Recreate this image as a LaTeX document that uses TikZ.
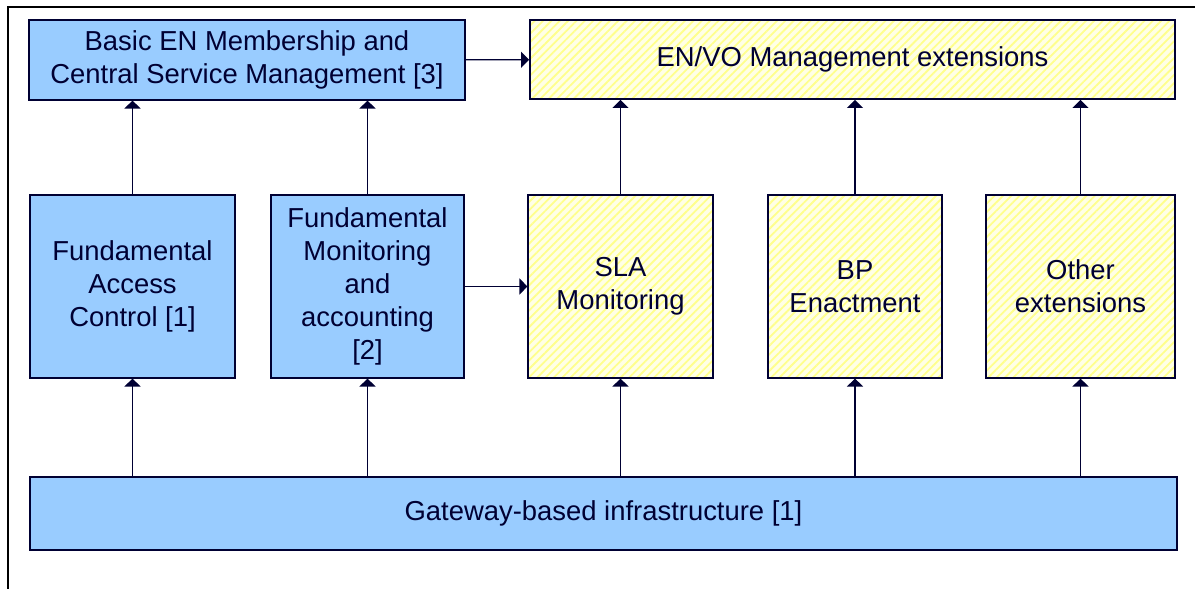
\documentclass[tikz,border=0pt]{standalone}
\usepackage{fontspec}
\setmainfont{Liberation Sans}
\usetikzlibrary{positioning,arrows.meta,patterns.meta}
\definecolor{navy}{RGB}{0,0,51}
\definecolor{boxblue}{RGB}{153,204,255}
\definecolor{paleyellow}{RGB}{255,255,230}
\definecolor{stripeyellow}{RGB}{255,255,140}

\begin{document}
\begin{tikzpicture}[x=0.025cm, y=-0.025cm,
  every node/.style = {font = \fontsize{19.5}{23.4}\selectfont, text = navy, align = center, inner sep = 0pt},
  basebox/.style = {draw = navy, line width = 0.8pt, fill = boxblue, shape = rectangle},
  extbox/.style = {draw = navy, line width = 0.8pt, shape = rectangle, preaction = {fill = paleyellow},
    pattern = {Lines[angle = 45, distance = 4.2pt, line width = 1.3pt]}, pattern color = stripeyellow},
  size/.style 2 args = {minimum width = #1*0.025cm, minimum height = #2*0.025cm},
  link/.style = {draw = navy, line width = 0.9pt, -{Triangle[length = 0.2cm, width = 0.4cm]}}]
\useasboundingbox (0,0) rectangle (1195,589);
\draw[line width = 0.9pt] (8,589) -- (8,7) -- (1195,7);

% top row
\node[basebox, size = {436}{80}] (basic) at (247,60) {Basic EN Membership and\\Central Service Management [3]};
\node[extbox, size = {645}{79}] (envo) at (852.5,59.5) {EN/VO Management extensions};

% middle row
\node[basebox, size = {205}{183}] (access) at (132.5,286.5) {Fundamental\\Access\\Control [1]};
\node[basebox, size = {193}{183}] (monitor) at (367.5,286.5) {Fundamental\\Monitoring\\and\\accounting\\{[2]}};
\node[extbox, size = {185}{183}] (sla) at (620.5,286.5) {SLA\\Monitoring};
\node[extbox, size = {174}{183}] (bp) at (855,286.5) {BP\\Enactment};
\node[extbox, size = {189}{183}] (other) at (1080.5,286.5) {Other\\extensions};

% bottom row
\node[basebox, size = {1147}{73}] (gateway) at (603.5,513.5) {Gateway-based infrastructure [1]};

\draw[link] (basic) -- (envo);
\draw[link] (monitor) -- (sla);
\foreach \n in {access, monitor}
  \draw[link] (\n.north) -- (\n.north |- basic.south);
\foreach \n in {sla, bp, other}
  \draw[link] (\n.north) -- (\n.north |- envo.south);
\foreach \n in {access, monitor, sla, bp, other}
  \draw[link] (gateway.north -| \n.south) -- (\n.south);
\end{tikzpicture}
\end{document}
